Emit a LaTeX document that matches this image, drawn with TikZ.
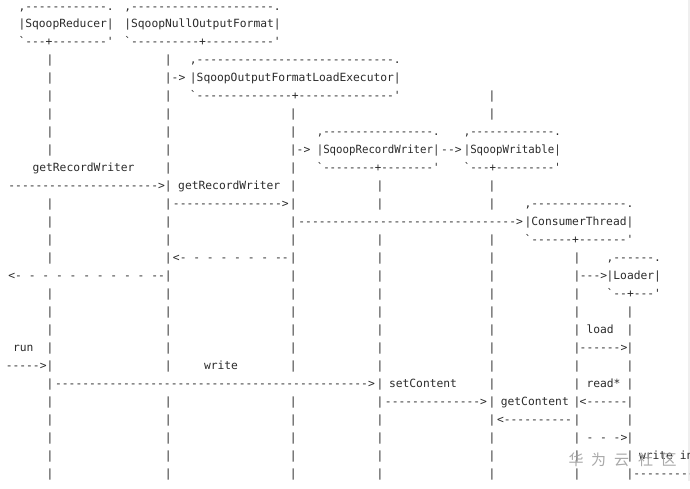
\documentclass[tikz,border=0pt]{standalone}
\usepackage{graphicx}
\usepackage{fontspec}
\setmonofont{DejaVu Sans Mono}
\newfontfamily\wmfont{Noto Sans CJK SC}
\ExplSyntaxOn
\NewDocumentCommand\asciirep{mm}{\prg_replicate:nn{#1}{#2}}
\ExplSyntaxOff
\definecolor{ink}{HTML}{2B2B2B}
\definecolor{wm}{HTML}{A0A0A0}
\definecolor{strip}{HTML}{EFEFEF}
\tikzset{
  ascii/.style={font=\ttfamily\fontsize{11.3pt}{18pt}\selectfont, inner sep=0pt, outer sep=0pt, text=ink},
  wmark/.style={font=\wmfont\fontsize{15pt}{15pt}\selectfont, text=wm, inner sep=0pt, anchor=center, opacity=0.9},
}
\newcommand\Tw[4]{\node[ascii,anchor=base west] (#1) at (#2,{10+17.97*(#3)}) {#4};}
\newcommand\Tc[4]{\node[ascii,anchor=base] (#1) at (#2,{10+17.97*(#3)}) {#4};}
\newcommand\Te[4]{\node[ascii,anchor=base east] (#1) at (#2,{10+17.97*(#3)}) {#4};}
\begin{document}
\begin{tikzpicture}[x=1pt,y=-1pt]
\useasboundingbox (0,0) rectangle (690,488);
\fill[white] (0,0) rectangle (690,488);
\clip (0,0) rectangle (690,488);
\fill[strip] (688,0) rectangle (690,481);
% lifelines
\foreach \r in {3,4,5,6,7,8,11,12,13,14,16,17,18,19,20,21,22,23,24,25,26}
  {\node[ascii,anchor=base] (lr\r) at (50,{10+17.97*\r}) {|};}
\foreach \r in {3,4,5,6,7,8,9,10,11,12,13,14,15,16,17,18,19,20,22,23,24,25,26}
  {\node[ascii,anchor=base] (ln\r) at (168.3,{10+17.97*\r}) {|};}
\foreach \r in {6,7,8,9,10,11,12,13,14,15,16,17,18,19,20,22,23,24,25,26}
  {\node[ascii,anchor=base] (le\r) at (293.3,{10+17.97*\r}) {|};}
\foreach \r in {10,11,13,14,15,16,17,18,19,20,21,22,23,24,25,26}
  {\node[ascii,anchor=base] (lw\r) at (380,{10+17.97*\r}) {|};}
\foreach \r in {5,6,10,11,13,14,15,16,17,18,19,20,21,22,23,24,25,26}
  {\node[ascii,anchor=base] (lb\r) at (492,{10+17.97*\r}) {|};}
\foreach \r in {14,15,16,17,18,19,20,21,22,23,24,25,26}
  {\node[ascii,anchor=base] (lc\r) at (577,{10+17.97*\r}) {|};}
\foreach \r in {17,18,19,20,21,22,23,24,25,26}
  {\node[ascii,anchor=base] (ll\r) at (630,{10+17.97*\r}) {|};}
% participants
\Tw{redT}{18.5}{0}{,\asciirep{12}{-}.}
\Tw{nulT}{124.3}{0}{,\asciirep{21}{-}.}
\Tw{red}{18.5}{1}{|SqoopReducer|}
\Tw{nul}{124.3}{1}{|SqoopNullOutputFormat|}
\Tw{redB}{18.5}{2}{`\asciirep{3}{-}+\asciirep{8}{-}'}
\Tw{nulB}{124.3}{2}{`\asciirep{10}{-}+\asciirep{10}{-}'}
\Tw{exeT}{189.9}{3}{,\asciirep{29}{-}.}
\Tw{a1}{171.7}{4}{->}
\Tw{exe}{189.9}{4}{|SqoopOutputFormatLoadExecutor|}
\Tw{exeB}{189.9}{5}{`\asciirep{14}{-}+\asciirep{14}{-}'}
\Tw{rwT}{316.8}{7}{\scalebox{0.95}[1]{,\asciirep{17}{-}.}}
\Tw{wrT}{463.8}{7}{\scalebox{0.95}[1]{,\asciirep{13}{-}.}}
\Tw{a2}{296.7}{8}{->}
\Tw{rw}{316.8}{8}{\scalebox{0.95}[1]{|SqoopRecordWriter|}}
\Tc{a3}{451.4}{8}{-{}->}
\Tw{wr}{463.8}{8}{\scalebox{0.95}[1]{|SqoopWritable|}}
\Tw{m1}{32.5}{9}{getRecordWriter}
\Tw{rwB}{316.8}{9}{\scalebox{0.95}[1]{`\asciirep{8}{-}+\asciirep{8}{-}'}}
\Tw{wrB}{463.8}{9}{\scalebox{0.95}[1]{`\asciirep{3}{-}+\asciirep{9}{-}'}}
\Te{a4}{164.9}{10}{\asciirep{22}{-}>}
\Tw{m2}{178.2}{10}{getRecordWriter}
\Tc{a5}{230.8}{11}{\asciirep{16}{-}>}
\Tw{ctT}{524.6}{11}{,\asciirep{14}{-}.}
\Tc{a6}{410.65}{12}{\asciirep{32}{-}>}
\Tw{ct}{524.6}{12}{|ConsumerThread|}
\Tw{ctB}{524.6}{13}{`\asciirep{6}{-}+\asciirep{7}{-}'}
\Tc{a7}{230.8}{14}{<-\asciirep{7}{\ -}-}
\Tw{ldT}{606.6}{14}{,\asciirep{6}{-}.}
\Te{a8}{164.9}{15}{<-\asciirep{10}{\ -}-}
\Tc{a9}{593.5}{15}{\asciirep{3}{-}>}
\Tw{ld}{606.6}{15}{|Loader|}
\Tw{ldB}{606.6}{16}{`\asciirep{2}{-}+\asciirep{3}{-}'}
% messages
\Tw{m3}{586.5}{18}{load}
\Tw{m4}{13}{19}{run}
\Tc{a10}{603.5}{19}{\asciirep{6}{-}>}
\Te{a11}{46.6}{20}{\asciirep{5}{-}>}
\Tw{m5}{204}{20}{write}
\Tc{a12}{215}{21}{\asciirep{46}{-}>}
\Tw{m6}{389}{21}{setContent}
\Tw{m7}{586.5}{21}{read*}
\Tc{a13}{436}{22}{\asciirep{14}{-}>}
\Tw{m8}{500.8}{22}{getContent}
\Tc{a14}{603.5}{22}{<\asciirep{6}{-}}
\Tc{a15}{534.5}{23}{<\asciirep{10}{-}}
\Tw{a16}{586.5}{24}{-\ -\ ->}
\Tw{m9}{639}{25}{write in}
\Tw{a17}{633.4}{26}{\asciirep{10}{-}}
% watermark
\foreach \c/\x [count=\k] in {华/576,为/598.5,云/621.5,社/645.5,区/669}
  {\node[wmark] (wm\k) at (\x,460) {\c};}
\end{tikzpicture}
\end{document}
